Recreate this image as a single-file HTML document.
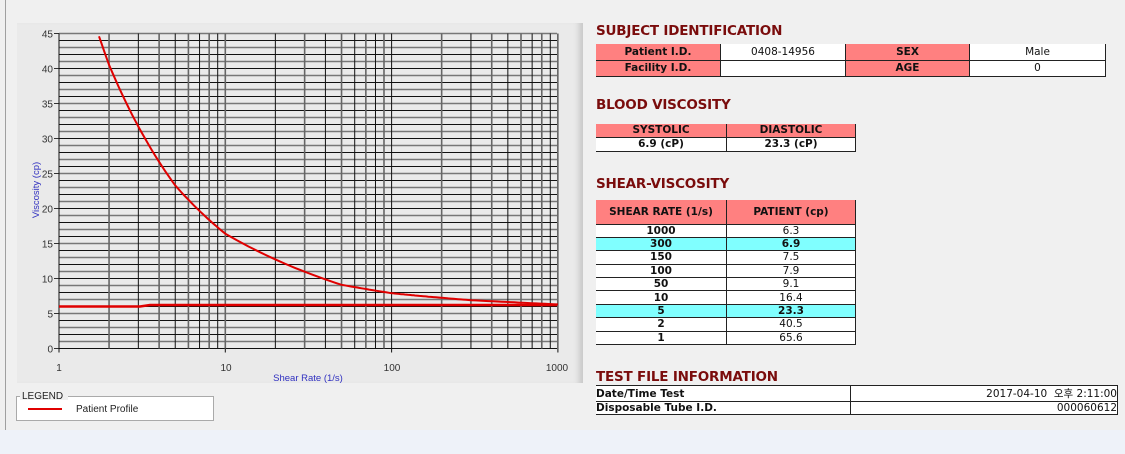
<!DOCTYPE html>
<html><head><meta charset="utf-8"><style>
body{margin:0;width:1125px;height:454px;background:#f0f0f0;position:relative;overflow:hidden;font-family:"Liberation Sans",sans-serif}
.abs{position:absolute}
h2{position:absolute;margin:0;font-family:"DejaVu Sans","Liberation Sans",sans-serif;font-weight:bold;font-size:13.5px;color:#7a0c0c;letter-spacing:-0.2px}
table{position:absolute;border-collapse:collapse;font-family:"DejaVu Sans","Liberation Sans","Noto Sans CJK KR",sans-serif;font-size:10.5px;color:#111}
td{padding:0;text-align:center;border-bottom:1px solid #222;border-right:1px solid #222}
.h{background:#ff8080;font-weight:bold}
.w{background:#fff}
.c{background:#80ffff;font-weight:bold}
</style></head><body>
<div class="abs" style="left:0;top:430px;width:1125px;height:24px;background:#eef2f9"></div>
<div class="abs" style="left:5px;top:0;width:1px;height:430px;background:#a0a0a0"></div>
<div class="abs" style="left:17px;top:23px;width:566px;height:360px;background:#eaeaea;box-shadow:inset -8px 0 6px -4px #c8c8c8"></div>
<svg class="abs" style="left:0;top:0" width="590" height="430" id="ch">
<g id="grid"></g>
<path id="c1" fill="none" stroke="#e00000" stroke-width="2"/>
<path d="M59 306.5 L140 306.5 L150 305 L557 305" fill="none" stroke="#e00000" stroke-width="2.5"/>
<g font-size="10" fill="#333" font-family="Liberation Sans,sans-serif" text-anchor="end" id="yl"></g>
<g font-size="10" fill="#333" font-family="Liberation Sans,sans-serif" text-anchor="middle">
<text x="59" y="371">1</text><text x="226" y="371">10</text><text x="392" y="371">100</text><text x="557" y="371">1000</text></g>
<text x="308" y="381" font-size="9.5" fill="#3030c0" text-anchor="middle">Shear Rate (1/s)</text>
<text transform="translate(39,190) rotate(-90)" font-size="9.5" fill="#3030c0" text-anchor="middle">Viscosity (cp)</text>
<rect x="16.5" y="396.5" width="197" height="24" fill="#fff" stroke="#aaa"/>
<rect x="20" y="390" width="48" height="10" fill="#f0f0f0"/>
<text x="22" y="399" font-size="10" fill="#222">LEGEND</text>
<line x1="28" y1="409" x2="62" y2="409" stroke="#e00000" stroke-width="2"/>
<text x="76" y="412" font-size="10" fill="#222">Patient Profile</text>
</svg>
<script>
(function(){
var X=function(s){return 59+166.3*Math.log10(s)},Y=function(v){return 348.5-7.0*v};
var g='';
for(var v=0;v<=45;v++){var y=Y(v);g+='<line x1="59" x2="557" y1="'+y+'" y2="'+y+'" stroke="'+(v%2?'#777':'#111')+'" stroke-width="'+(v%2?1.6:1)+'"/>';
if(v%5==0)g+='<line x1="54" x2="59" y1="'+y+'" y2="'+y+'" stroke="#333"/>';}
var k=0;
for(var d=1;d<=100;d*=10)for(var i=1;i<10;i++){var x=X(d*i);k++;g+='<line y1="'+Y(45)+'" y2="'+Y(0)+'" x1="'+x+'" x2="'+x+'" stroke="'+(k%2?'#111':'#666')+'" stroke-width="'+(k%2?1:1.6)+'"/>';}
var xe=X(1000);g+='<line y1="'+Y(45)+'" y2="'+(Y(0)+4)+'" x1="'+xe+'" x2="'+xe+'" stroke="#111"/>';
[1,10,100].forEach(function(s){var x=X(s);g+='<line y1="'+Y(0)+'" y2="'+(Y(0)+4)+'" x1="'+x+'" x2="'+x+'" stroke="#111"/>'});
document.getElementById('grid').innerHTML=g;
var yl='';for(var v=0;v<=45;v+=5)yl+='<text x="53" y="'+(Y(v)+4)+'">'+v+'</text>';
document.getElementById('yl').innerHTML=yl;
var P=[[1,65.6],[2,40.5],[5,23.3],[10,16.4],[50,9.1],[100,7.9],[150,7.5],[300,6.9],[1000,6.3]];
var d='';
for(var j=0;j<P.length-1;j++){var a=P[j],b=P[j+1];for(var t=0;t<=20;t++){var u=t/20;var ls=Math.log10(a[0])*(1-u)+Math.log10(b[0])*u;var lv=Math.log(a[1])*(1-u)+Math.log(b[1])*u;var v=Math.exp(lv);if(v>45.5)continue;d+=(d?'L':'M')+X(Math.pow(10,ls)).toFixed(1)+' '+Y(v).toFixed(1);}}
document.getElementById('c1').setAttribute('d',d);
})();
</script>

<h2 style="left:596px;top:23px">SUBJECT IDENTIFICATION</h2>
<table style="left:596px;top:44px;width:510px;border-left:0">
<tr style="height:16px"><td class="h" style="width:124px">Patient I.D.</td><td class="w" style="width:124px">0408-14956</td><td class="h" style="width:123px">SEX</td><td class="w">Male</td></tr>
<tr style="height:16px"><td class="h">Facility I.D.</td><td class="w"></td><td class="h">AGE</td><td class="w">0</td></tr>
</table>

<h2 style="left:596px;top:97px">BLOOD VISCOSITY</h2>
<table style="left:596px;top:124px;width:260px">
<tr style="height:13px"><td class="h" style="width:130px">SYSTOLIC</td><td class="h">DIASTOLIC</td></tr>
<tr style="height:14px"><td class="w" style="font-weight:bold">6.9 (cP)</td><td class="w" style="font-weight:bold">23.3 (cP)</td></tr>
</table>

<h2 style="left:596px;top:176px">SHEAR-VISCOSITY</h2>
<table style="left:596px;top:200px;width:260px">
<tr style="height:24px"><td class="h" style="width:130px">SHEAR RATE (1/s)</td><td class="h">PATIENT (cp)</td></tr>
<tr style="height:13.4px"><td class="w" style="font-weight:bold">1000</td><td class="w">6.3</td></tr>
<tr style="height:13.4px"><td class="c">300</td><td class="c">6.9</td></tr>
<tr style="height:13.4px"><td class="w" style="font-weight:bold">150</td><td class="w">7.5</td></tr>
<tr style="height:13.4px"><td class="w" style="font-weight:bold">100</td><td class="w">7.9</td></tr>
<tr style="height:13.4px"><td class="w" style="font-weight:bold">50</td><td class="w">9.1</td></tr>
<tr style="height:13.4px"><td class="w" style="font-weight:bold">10</td><td class="w">16.4</td></tr>
<tr style="height:13.4px"><td class="c">5</td><td class="c">23.3</td></tr>
<tr style="height:13.4px"><td class="w" style="font-weight:bold">2</td><td class="w">40.5</td></tr>
<tr style="height:13.4px"><td class="w" style="font-weight:bold">1</td><td class="w">65.6</td></tr>
</table>

<h2 style="left:596px;top:369px">TEST FILE INFORMATION</h2>
<table style="left:596px;top:385px;width:522px;border-top:1px solid #222">
<tr style="height:13px"><td class="w" style="width:254px;text-align:left;font-weight:bold">Date/Time Test</td><td class="w" style="text-align:right">2017-04-10&nbsp;&nbsp;오후 2:11:00</td></tr>
<tr style="height:13px"><td class="w" style="text-align:left;font-weight:bold">Disposable Tube I.D.</td><td class="w" style="text-align:right">000060612</td></tr>
</table>
</body></html>
